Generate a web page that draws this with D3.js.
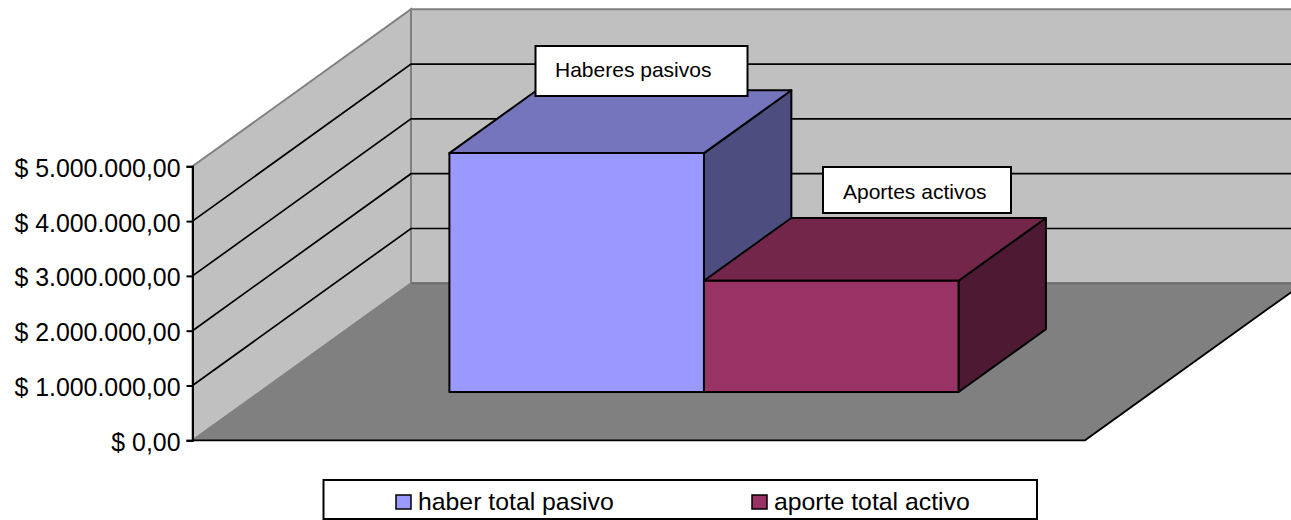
<!DOCTYPE html>
<html>
<head>
<meta charset="utf-8">
<script src="https://cdnjs.cloudflare.com/ajax/libs/d3/7.8.5/d3.min.js"></script>
<style>
  body { margin: 0; background: #fff; }
  svg { display: block; }
  text { font-family: "Liberation Sans", Arial, sans-serif; fill: #000; }
</style>
</head>
<body>
<div id="chart"></div>
<script>
const categories = ["haber total pasivo", "aporte total activo"];
const values = [4360000, 2030000];
const callouts = ["Haberes pasivos", "Aportes activos"];
const tickValues = [0, 1000000, 2000000, 3000000, 4000000, 5000000];
const tickLabels = ["$ 0,00", "$ 1.000.000,00", "$ 2.000.000,00", "$ 3.000.000,00", "$ 4.000.000,00", "$ 5.000.000,00"];
const faceColors = ["#9999ff", "#993366"];
const topColors = ["#7575bd", "#732649"];
const sideColors = ["#4d4d80", "#4d1933"];

const width = 1291;
const height = 520;

const svg = d3.select("#chart")
  .append("svg")
  .attr("width", width)
  .attr("height", height);

const y = d3.scaleLinear().domain([0, 5000000]).range([440.3, 166.3]);
const x = d3.scaleBand().domain(categories).range([192.5, 1085]).paddingInner(0).paddingOuter(0.753).align(0.4948);

// depth runs from the front edge of the floor (0) to the back wall (1)
const depth = d3.scaleLinear().domain([0, 1]).range([0, 1]);
const depthX = 218.5;
const depthY = -157;
const barFront = 0.3076;
const barBack = 0.7076;

// project a point on the front plane back into the scene
const pt = (px, py, d) => [px + depth(d) * depthX, py + depth(d) * depthY];
const poly = pts => pts.map(p => p.join(",")).join(" ");

const x0 = x.range()[0];
const x1 = x.range()[1];
const yBase = y(0);
const yTop = y.range()[1];

const walls = svg.append("g");

// back wall
walls.append("polygon")
  .attr("points", poly([pt(x0, yTop, 1), pt(x1, yTop, 1), pt(x1, yBase, 1), pt(x0, yBase, 1)]))
  .attr("fill", "#c0c0c0")
  .attr("stroke", "#808080")
  .attr("stroke-width", 2);

// side wall
walls.append("polygon")
  .attr("points", poly([pt(x0, yTop, 0), pt(x0, yTop, 1), pt(x0, yBase, 1), pt(x0, yBase, 0)]))
  .attr("fill", "#c0c0c0")
  .attr("stroke", "#808080")
  .attr("stroke-width", 2);

// floor
walls.append("polygon")
  .attr("points", poly([pt(x0, yBase, 0), pt(x0, yBase, 1), pt(x1, yBase, 1), pt(x1, yBase, 0)]))
  .attr("fill", "#808080");

walls.append("polyline")
  .attr("points", poly([pt(x0, yBase, 1), pt(x1, yBase, 1)]))
  .attr("fill", "none")
  .attr("stroke", "#6e6e6e")
  .attr("stroke-width", 2);

walls.append("polyline")
  .attr("points", poly([pt(x0, yBase, 0), pt(x1, yBase, 0), pt(x1, yBase, 1)]))
  .attr("fill", "none")
  .attr("stroke", "#000")
  .attr("stroke-width", 1.8);

// gridlines, along the side wall and across the back wall
const grid = svg.append("g");
grid.selectAll("polyline")
  .data(tickValues.slice(1, 5))
  .join("polyline")
  .attr("points", v => poly([pt(x0, y(v), 0), pt(x0, y(v), 1), pt(x1, y(v), 1)]))
  .attr("fill", "none")
  .attr("stroke", "#000")
  .attr("stroke-width", 1.7);

// axis
const axis = d3.axisLeft(y)
  .tickValues(tickValues)
  .tickSize(6)
  .tickPadding(6)
  .tickFormat((d, i) => tickLabels[i]);

const axisG = svg.append("g")
  .attr("transform", "translate(" + x0 + ",0)")
  .call(axis);
axisG.selectAll("path, line").attr("stroke", "#000").attr("stroke-width", 2);
axisG.selectAll("text")
  .style("font-family", '"Liberation Sans", Arial, sans-serif')
  .attr("font-size", 24.9)
  .attr("dy", ".4em")
  .attr("fill", "#000");

// bars
const bars = svg.append("g")
  .selectAll("g")
  .data(categories)
  .join("g")
  .attr("stroke", "#000")
  .attr("stroke-width", 2)
  .attr("stroke-linejoin", "round");

bars.append("polygon")
  .attr("fill", (d, i) => sideColors[i])
  .attr("points", (d, i) => {
    const r = x(d) + x.bandwidth();
    return poly([pt(r, y(values[i]), barFront), pt(r, y(values[i]), barBack), pt(r, yBase, barBack), pt(r, yBase, barFront)]);
  });

bars.append("polygon")
  .attr("fill", (d, i) => topColors[i])
  .attr("points", (d, i) => {
    const l = x(d);
    const r = l + x.bandwidth();
    return poly([pt(l, y(values[i]), barFront), pt(r, y(values[i]), barFront), pt(r, y(values[i]), barBack), pt(l, y(values[i]), barBack)]);
  });

bars.append("polygon")
  .attr("fill", (d, i) => faceColors[i])
  .attr("points", (d, i) => {
    const l = x(d);
    const r = l + x.bandwidth();
    return poly([pt(l, y(values[i]), barFront), pt(r, y(values[i]), barFront), pt(r, yBase, barFront), pt(l, yBase, barFront)]);
  });

// callout boxes
const calloutBoxes = [
  { x: 535.5, y: 46, w: 212, h: 50, tx: 555, ty: 77 },
  { x: 823, y: 167, w: 188, h: 46, tx: 843, ty: 199 }
];
const labels = svg.append("g")
  .selectAll("g")
  .data(callouts)
  .join("g");

labels.append("rect")
  .attr("x", (d, i) => calloutBoxes[i].x)
  .attr("y", (d, i) => calloutBoxes[i].y)
  .attr("width", (d, i) => calloutBoxes[i].w)
  .attr("height", (d, i) => calloutBoxes[i].h)
  .attr("fill", "#fff")
  .attr("stroke", "#000")
  .attr("stroke-width", 2);

labels.append("text")
  .attr("x", (d, i) => calloutBoxes[i].tx)
  .attr("y", (d, i) => calloutBoxes[i].ty)
  .attr("font-size", 21)
  .text(d => d);

// legend
const legend = svg.append("g");
legend.append("rect")
  .attr("x", 323.5)
  .attr("y", 480)
  .attr("width", 713.5)
  .attr("height", 39)
  .attr("fill", "#fff")
  .attr("stroke", "#000")
  .attr("stroke-width", 2);

const legendX = [396, 752];
const legendItems = legend.selectAll("g.item")
  .data(categories)
  .join("g")
  .attr("class", "item")
  .attr("transform", (d, i) => "translate(" + legendX[i] + ",495)");

legendItems.append("rect")
  .attr("width", 15)
  .attr("height", 14)
  .attr("fill", (d, i) => faceColors[i])
  .attr("stroke", "#000")
  .attr("stroke-width", 1.5);

legendItems.append("text")
  .attr("x", 22)
  .attr("y", 15)
  .attr("font-size", 24.8)
  .text(d => d);
</script>
</body>
</html>
